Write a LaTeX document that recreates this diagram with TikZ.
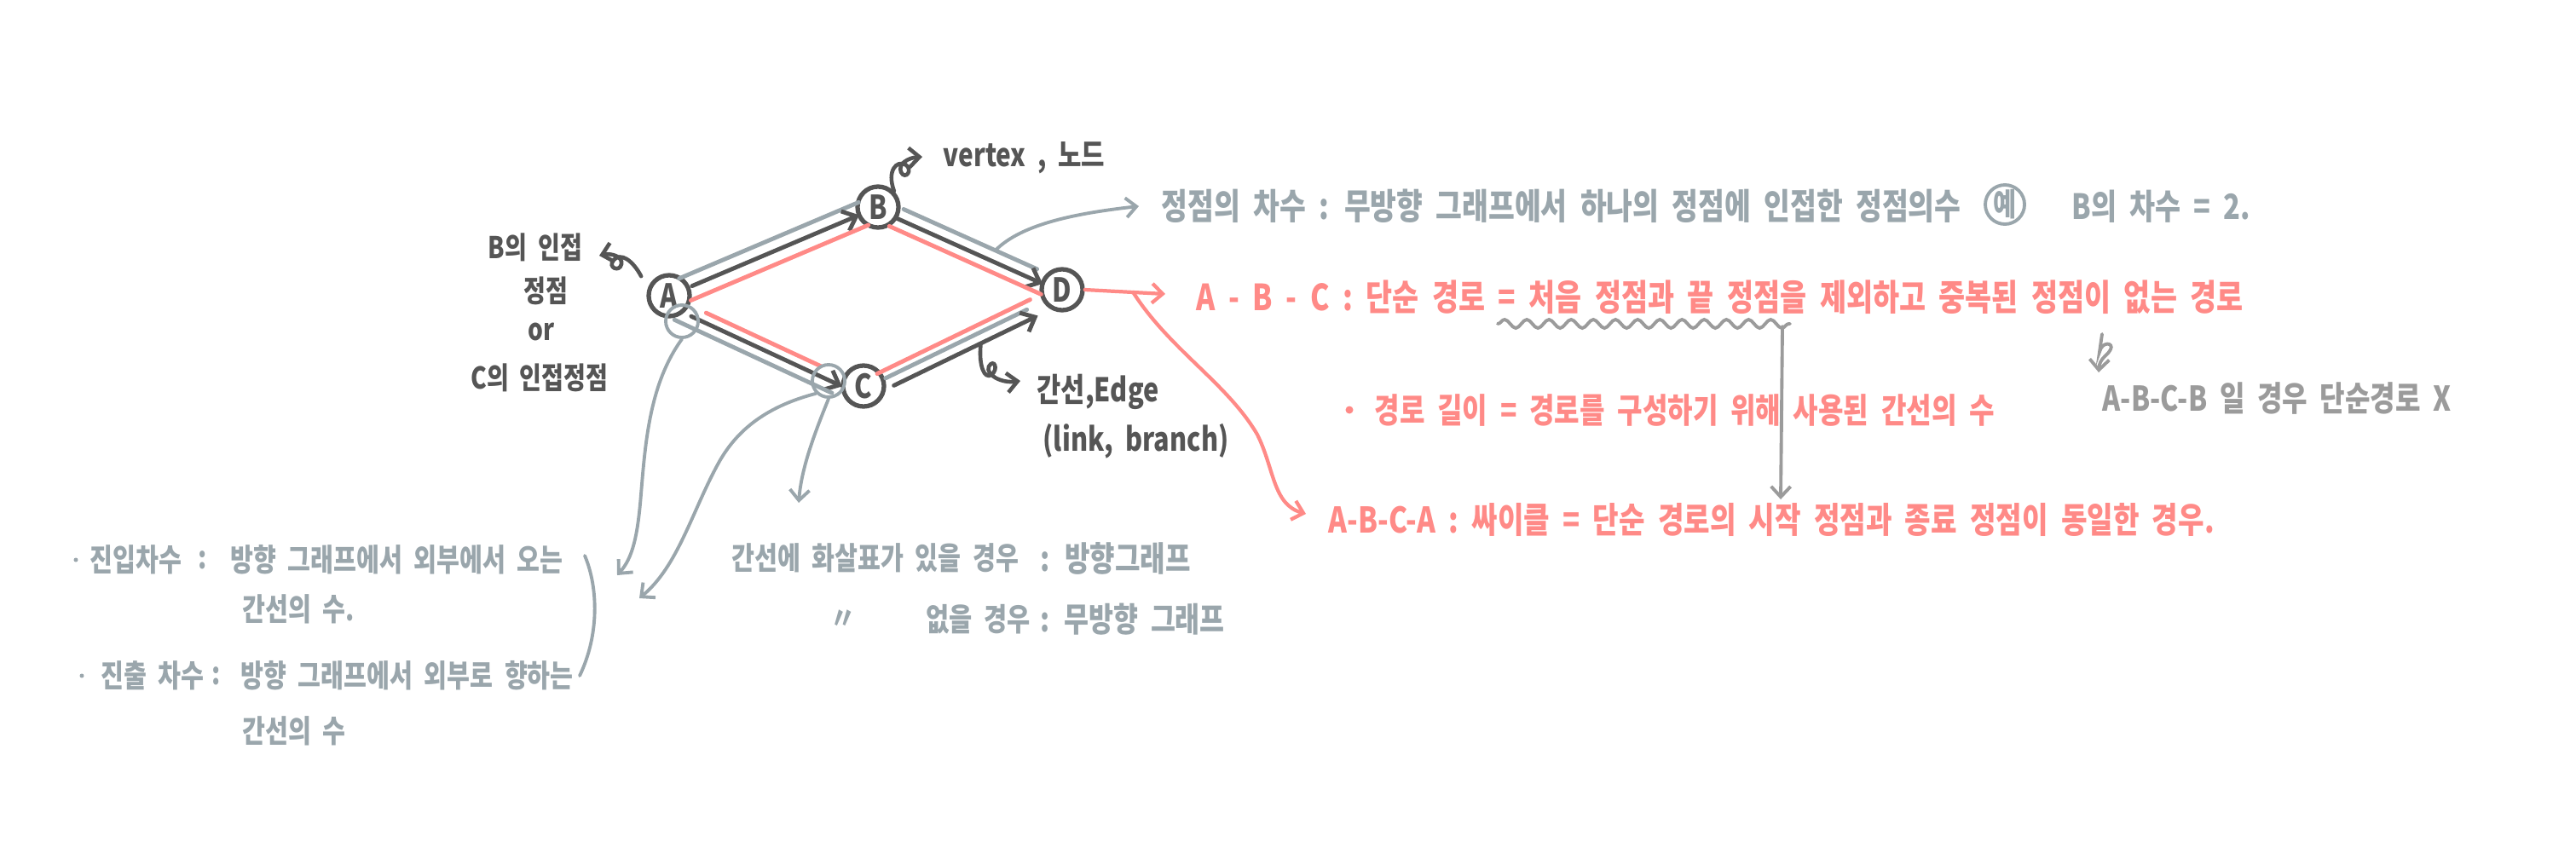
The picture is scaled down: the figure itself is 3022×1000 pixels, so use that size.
\documentclass[tikz,border=0pt]{standalone}
\usepackage{fontspec}
\setmainfont{Noto Sans CJK KR}
\newfontfamily\hf[FakeStretch=0.8,WordSpace=2]{Noto Sans CJK KR}
\usetikzlibrary{calc,arrows.meta,decorations.pathmorphing}
\newcommand\hfs[1]{\hf\bfseries\fontsize{#1}{#1}\selectfont}
\newcommand\pl[6]{\draw[#1] ($(#2)!#4!(#3)!#6!90:(#3)$) -- ($(#3)!#5!(#2)!#6!-90:(#2)$);}
\definecolor{dk}{HTML}{555555}
\definecolor{gb}{HTML}{9AA6AC}
\definecolor{rd}{HTML}{FF8A87}
\definecolor{ng}{HTML}{9B9B9B}
\tikzset{
  vtx/.style={circle, draw=dk, line width=1.5pt, minimum size=0.48cm, inner sep=0pt, text=dk, font=\hfs{11}},
  ed/.style={line width=1.4pt, line cap=round},
  edgray/.style={ed, draw=gb},
  eddark/.style={ed, draw=dk, -{Straight Barb[length=4pt,width=7pt]}},
  edred/.style={ed, draw=rd},
  tip/.style={-{Straight Barb[length=3.5pt,width=6.5pt]}},
  gcurve/.style={draw=gb, line width=1.1pt, line cap=round},
  dkl/.style={draw=dk, line width=1.3pt, line cap=round},
  rdl/.style={draw=rd, line width=1.2pt, line cap=round},
  ngl/.style={draw=ng, line width=1.1pt, line cap=round},
  txt/.style={inner sep=0pt, anchor=west},
  ring/.style={circle, draw=gb, line width=1.1pt, minimum size=0.38cm, inner sep=0pt},
  dot/.style={circle, inner sep=0pt, minimum size=#1},
}
\begin{document}
\begin{tikzpicture}[x=0.01cm,y=-0.01cm]
\useasboundingbox (0,0) rectangle (3022,1000);
\fill[white] (0,0) rectangle (3022,1000);

% vertices
\node[vtx] (A) at (785,347) {A};
\node[vtx] (B) at (1030,243) {B};
\node[vtx] (C) at (1013,453) {C};
\node[vtx] (D) at (1246,340) {D};

% edges A-B
\pl{edgray}{A}{B}{0.07}{0.07}{0.14cm}
\pl{eddark}{A}{B}{0.11}{0.09}{0cm}
\pl{edred}{A}{B}{0.08}{0.07}{-0.15cm}
% B-D
\pl{edgray}{B}{D}{0.12}{0.155}{0.10cm}
\pl{eddark}{B}{D}{0.11}{0.10}{-0.03cm}
\pl{edred}{B}{D}{0.09}{0.086}{-0.15cm}
% A-C
\pl{edred}{A}{C}{0.19}{0.22}{0cm}
\pl{eddark}{A}{C}{0.134}{0.09}{-0.11cm}
\pl{edgray}{A}{C}{0.07}{0.12}{-0.23cm}
% C-D
\pl{edred}{C}{D}{0.08}{0.15}{0.06cm}
\pl{edgray}{C}{D}{0.105}{0.183}{-0.03cm}
\pl{eddark}{C}{D}{0.125}{0.15}{-0.15cm}

% gray rings
\node[ring] (gA) at (800,377) {};
\node[ring] (gC) at (972,447) {};

% labels around graph
\node[txt, text=dk, font=\hfs{10.6}] (vx) at (1106,185) {vertex , 노드};
\node[inner sep=0pt, text=dk, font=\hfs{10}] (lb1) at (628,290) {B의 인접};
\node[inner sep=0pt, text=dk, font=\hfs{10}] (lb2) at (640,341) {정점};
\node[inner sep=0pt, text=dk, font=\hfs{10}] (lb3) at (635,389) {or};
\node[inner sep=0pt, text=dk, font=\hfs{10}] (lb4) at (633,443) {C의 인접정점};
\node[txt, text=dk, font=\hfs{10.9}] (edg) at (1216,460) {간선,Edge};
\node[txt, text=dk, font=\hfs{10.9}] (lnk) at (1223,518) {(link, branch)};

% curls
\draw[dkl, tip] (B.north east) .. controls (1040,200) and (1052,188) .. (1062,193)
  .. controls (1072,199) and (1062,212) .. (1057,202)
  .. controls (1053,192) and (1066,185) .. (1082,184);
\draw[dkl, tip] ($(A.north west)+(-14,-4)$) .. controls (742,305) and (728,296) .. (720,305)
  .. controls (712,314) and (727,320) .. (729,310)
  .. controls (731,300) and (715,297) .. (703,300);
\coordinate (ecs) at ($(C)!0.56!(D)!-0.16cm!90:(D)$);
\draw[dkl, tip] (ecs) .. controls (1148,430) and (1155,445) .. (1163,440)
  .. controls (1172,433) and (1166,420) .. (1160,430)
  .. controls (1156,440) and (1175,450) .. (1197,447);

% degree line
\node[txt, text=gb, font=\hfs{11.9}] (deg) at (1362,242) {정점의 차수 : 무방향 그래프에서 하나의 정점에 인접한 정점의수};
\node[circle, draw=gb, line width=1.1pt, minimum size=0.46cm, inner sep=0pt, text=gb, font=\hfs{10.5}] (ye) at (2352,240) {예};
\node[txt, text=gb, font=\hfs{11.6}] (deg2) at (2430,242) {B의 차수 = 2.};
\coordinate (bds) at ($(B)!0.62!(D)!0.11cm!90:(D)$);
\draw[gcurve, tip] (bds) .. controls (1200,262) and (1265,250) .. ($(deg.west)+(-26,0)$);

% simple path
\node[txt, text=rd, font=\hfs{12}] (sp) at (1403,349) {A - B - C : 단순 경로 = 처음 정점과 끝 정점을 제외하고 중복된 정점이 없는 경로};
\coordinate (rA) at (1367,345);
\draw[rdl, tip] (D.east) -- (rA);
\coordinate (rB) at ($(D.east)!0.6!(rA)$);
\node[txt, text=rd, font=\hfs{11.8}] (cyc) at (1558,610) {A-B-C-A : 싸이클 = 단순 경로의 시작 정점과 종료 정점이 동일한 경우.};
\draw[rdl, tip] (rB) .. controls (1372,410) and (1440,450) .. (1475,510)
  .. controls (1495,550) and (1493,592) .. ($(cyc.west)+(-26,-7)$);

\node[dot=0.09cm, fill=rd] (bul) at (1583,481) {};
\node[txt, text=rd, font=\hfs{11.4}] (len) at (1612,481) {경로 길이 = 경로를 구성하기 위해 사용된 간선의 수};

% wavy + vertical
\draw[ngl, decorate, decoration={snake, amplitude=0.05cm, segment length=0.26cm}] (1757,380) -- (2100,380);
\coordinate (wv) at (2091,383);
\coordinate (vt) at (2089,586);
\draw[ngl, tip] (wv) -- (vt);

\node[txt, text=ng, font=\hfs{11.4}] (abcb) at (2466,467) {A-B-C-B 일 경우 단순경로 X};
\draw[ngl, tip] (2466,392) -- (2463,413) .. controls (2466,400) and (2480,402) .. (2476,410)
  .. controls (2472,418) and (2463,420) .. (2462,437);

% bottom centre
\node[txt, text=gb, font=\hfs{10.4}] (dir1) at (858,655) {간선에 화살표가 있을 경우};
\node[txt, text=gb, font=\hfs{11.4}] (dir1b) at (1220,655) {: 방향그래프};
\node[txt, text=gb, font=\hfs{10.5}] (ditto) at (974,727) {〃};
\node[txt, text=gb, font=\hfs{10.5}] (dir2) at (1086,727) {없을 경우};
\node[txt, text=gb, font=\hfs{11.2}] (dir2b) at (1220,727) {: 무방향 그래프};

% left
\node[dot=0.05cm, fill=gb] (d1) at (89,657) {};
\node[txt, text=gb, font=\hfs{10.4}] (in1) at (105,657) {진입차수};
\node[txt, text=gb, font=\hfs{10.4}] (in1c) at (232,657) {:};
\node[txt, text=gb, font=\hfs{10.4}] (in1t) at (270,657) {방향 그래프에서 외부에서 오는};
\node[txt, text=gb, font=\hfs{10.4}] (in2) at (284,715) {간선의 수.};
\node[dot=0.05cm, fill=gb] (d2) at (96,793) {};
\node[txt, text=gb, font=\hfs{10.4}] (out1) at (118,793) {진출 차수};
\node[txt, text=gb, font=\hfs{10.4}] (out1c) at (248,793) {:};
\node[txt, text=gb, font=\hfs{10.4}] (out1t) at (282,793) {방향 그래프에서 외부로 향하는};
\node[txt, text=gb, font=\hfs{10.4}] (out2) at (284,858) {간선의 수};

% gray curves from rings
\draw[gcurve, tip] (gA.south) .. controls (762,450) and (757,520) .. (752,580)
  .. controls (748,630) and (742,655) .. (724,675);
\draw[gcurve, tip] (gC.south west) .. controls (895,478) and (862,508) .. (842,545)
  .. controls (812,600) and (795,665) .. (750,702);
\draw[gcurve, tip] (gC.south) .. controls (955,510) and (940,550) .. (937,590);
\draw[gcurve] (686,652) .. controls (702,690) and (703,745) .. (680,793);
\end{tikzpicture}
\end{document}
